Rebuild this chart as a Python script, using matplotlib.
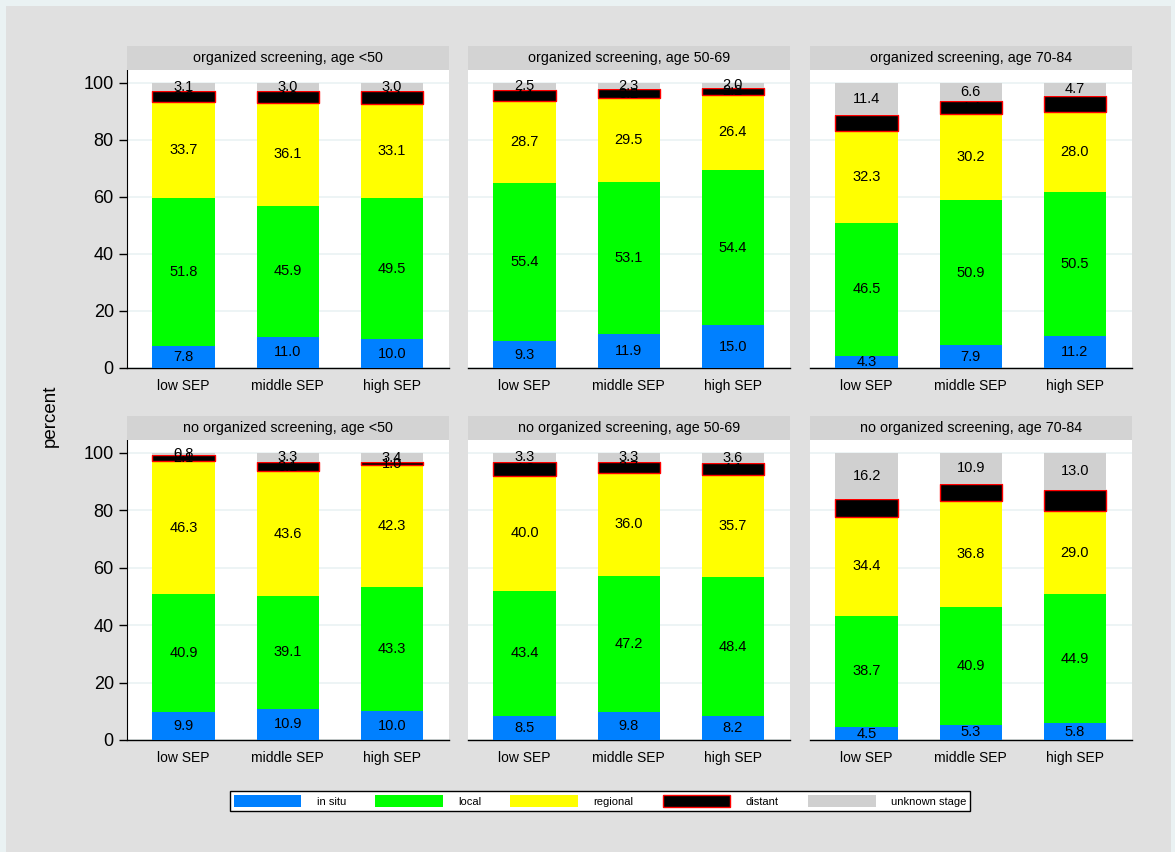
import numpy as np
import matplotlib.pyplot as plt
from matplotlib.patches import Patch, Rectangle

plt.rcParams['font.family'] = ['Liberation Sans', 'DejaVu Sans']

# categories
sep_groups = ["low SEP", "middle SEP", "high SEP"]
panel_titles = ["organized screening, age <50", "organized screening, age 50-69",
                "organized screening, age 70-84", "no organized screening, age <50",
                "no organized screening, age 50-69", "no organized screening, age 70-84"]
stages = ["in situ", "local", "regional", "distant", "unknown stage"]

# percent per panel, one list per SEP group (low, middle, high)
in_situ = [[7.8, 11.0, 10.0], [9.3, 11.9, 15.0], [4.3, 7.9, 11.2],
           [9.9, 10.9, 10.0], [8.5, 9.8, 8.2], [4.5, 5.3, 5.8]]
local = [[51.8, 45.9, 49.5], [55.4, 53.1, 54.4], [46.5, 50.9, 50.5],
         [40.9, 39.1, 43.3], [43.4, 47.2, 48.4], [38.7, 40.9, 44.9]]
regional = [[33.7, 36.1, 33.1], [28.7, 29.5, 26.4], [32.3, 30.2, 28.0],
            [46.3, 43.6, 42.3], [40.0, 36.0, 35.7], [34.4, 36.8, 29.0]]
distant = [[3.6, 4.0, 4.4], [4.1, 3.2, 2.2], [5.5, 4.4, 5.6],
           [2.1, 3.1, 1.0], [4.8, 3.7, 4.1], [6.2, 6.1, 7.3]]
unknown = [[3.1, 3.0, 3.0], [2.5, 2.3, 2.0], [11.4, 6.6, 4.7],
           [0.8, 3.3, 3.4], [3.3, 3.3, 3.6], [16.2, 10.9, 13.0]]

colors = ["#0080ff", "#00ff00", "#ffff00", "black", "#d0d0d0"]
edges = ["none", "none", "none", "red", "none"]

W, H = 1175, 852
fig = plt.figure(figsize=(W / 100, H / 100), dpi=100, facecolor="#eaf2f3")
# gray graph region inside a thin light border
fig.patches.append(Rectangle((6 / W, 0), 1165 / W, 846 / H, transform=fig.transFigure,
                             facecolor="#e0e0e0", edgecolor="none", zorder=-10))

lefts = [127, 468, 810]
width = 322
tops = [70, 440]
bottoms = [368, 740]
hd_h = 24

x = np.arange(3)
for p in range(6):
    r, c = divmod(p, 3)
    l = lefts[c]
    ax_h = bottoms[r] - tops[r]
    ax = fig.add_axes([l / W, 1 - bottoms[r] / H, width / W, ax_h / H])
    hd = fig.add_axes([l / W, 1 - tops[r] / H, width / W, hd_h / H])
    hd.set_facecolor("#d3d3d3")
    hd.set_xticks([]); hd.set_yticks([])
    for s in hd.spines.values():
        s.set_visible(False)
    hd.text(0.5, 0.5, panel_titles[p], ha="center", va="center", fontsize=10.3)

    data = [in_situ[p], local[p], regional[p], distant[p], unknown[p]]
    bottom = np.zeros(3)
    for k in range(5):
        vals = np.array(data[k])
        ax.bar(x, vals, 0.6, bottom=bottom, color=colors[k], edgecolor=edges[k],
               linewidth=1 if k == 3 else 0, zorder=3)
        for i in range(3):
            ax.text(x[i], bottom[i] + vals[i] / 2, f"{vals[i]:.1f}", ha="center",
                    va="center", fontsize=10.5, zorder=4)
        bottom += vals

    ax.set_xlim(-0.545, 2.55)
    ax.set_ylim(0, 104.4)
    ax.set_yticks([0, 20, 40, 60, 80, 100])
    ax.yaxis.grid(True, color="#eaf2f3", linewidth=1.2, zorder=0)
    ax.set_xticks(x)
    ax.set_xticklabels(sep_groups, fontsize=10)
    ax.tick_params(axis="x", length=0, pad=8)
    for s in ["top", "right"]:
        ax.spines[s].set_visible(False)
    ax.spines["bottom"].set_linewidth(1)
    if c == 0:
        ax.tick_params(axis="y", labelsize=13, length=6, width=1)
    else:
        ax.spines["left"].set_visible(False)
        ax.tick_params(axis="y", left=False, labelleft=False)

fig.text(50 / W, 1 - 416 / H, "percent", rotation=90, ha="center", va="center", fontsize=13.5)

handles = [Patch(facecolor=colors[k], edgecolor=edges[k], linewidth=1 if k == 3 else 0)
           for k in range(5)]
leg = fig.legend(handles, stages, loc="center", bbox_to_anchor=(600 / W, 1 - 801 / H),
                 ncol=5, fontsize=8, frameon=True, fancybox=False, edgecolor="black",
                 facecolor="white", framealpha=1,
                 handlelength=6.1, handleheight=1.4, columnspacing=2.6, handletextpad=1.4,
                 borderpad=0.35, borderaxespad=0)
leg.get_frame().set_linewidth(1)

fig.savefig("out.png", dpi=100, facecolor=fig.get_facecolor())
